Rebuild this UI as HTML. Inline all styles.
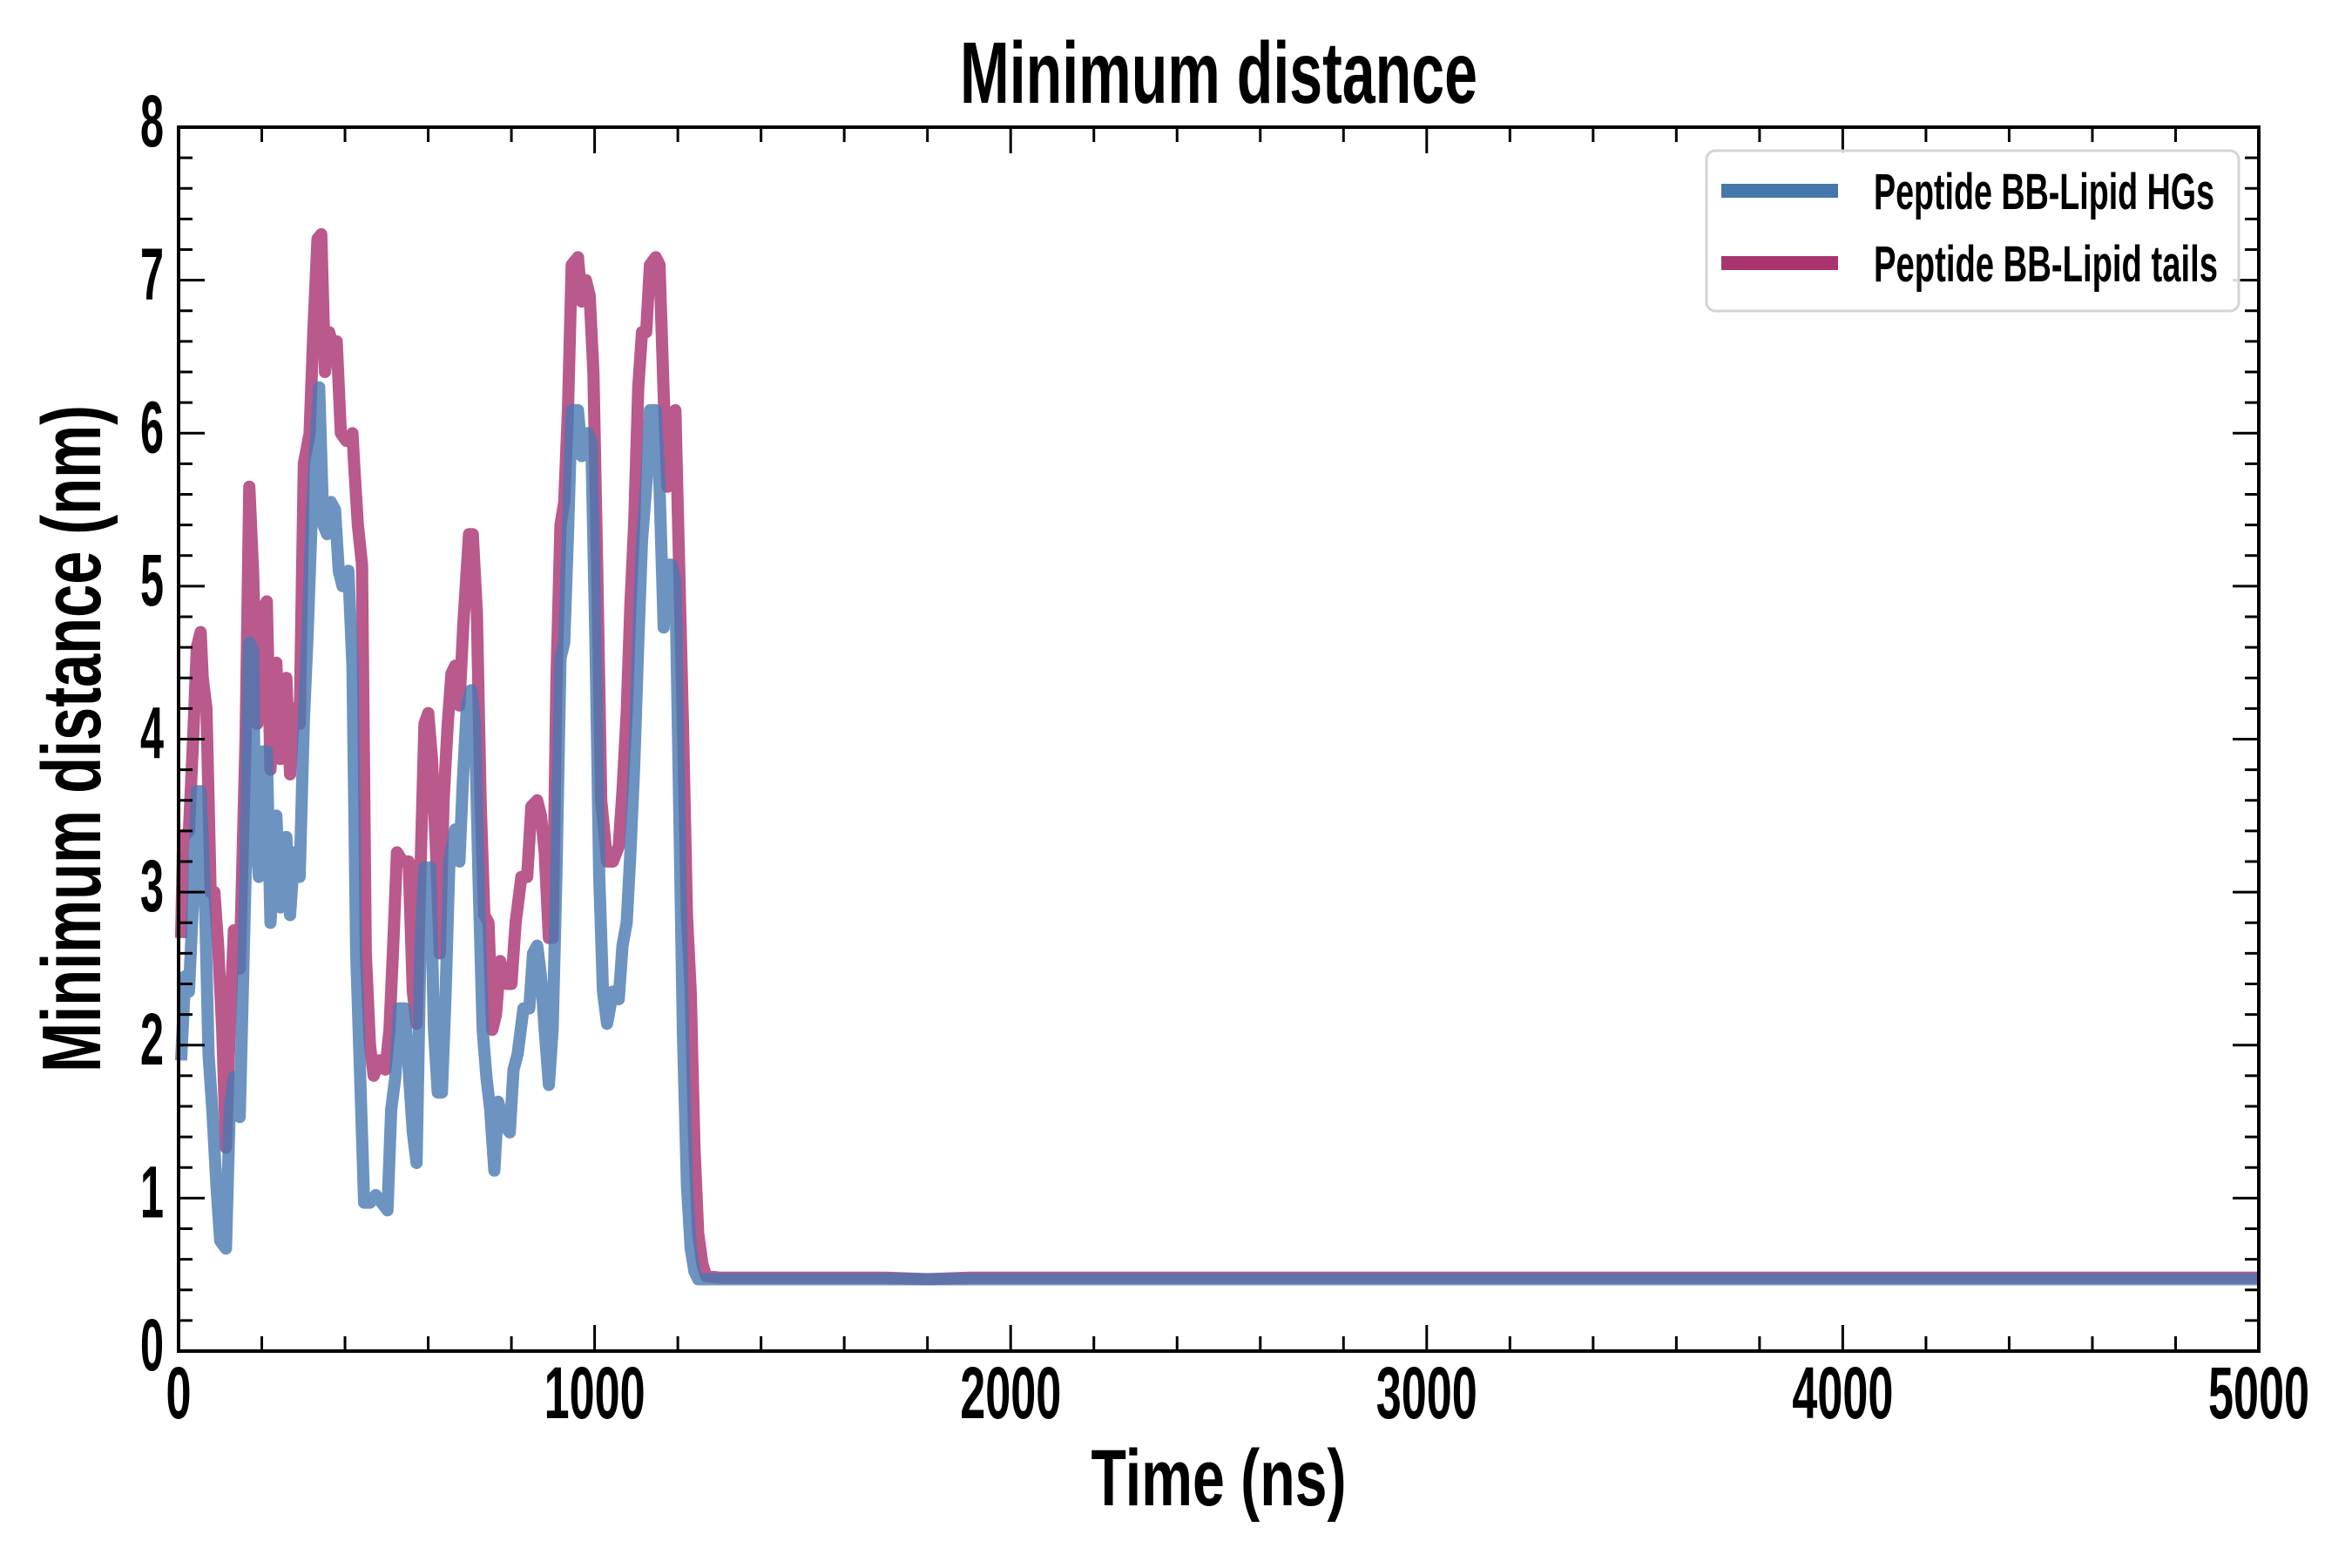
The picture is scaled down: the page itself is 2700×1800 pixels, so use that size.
<!DOCTYPE html>
<html><head><meta charset="utf-8"><title>Minimum distance</title>
<style>
html,body{margin:0;padding:0;background:#fff;}
svg{display:block;}
text{font-family:"Liberation Sans Narrow","Liberation Sans",sans-serif;font-weight:bold;fill:#000;}
</style></head>
<body>
<svg id="chart" xmlns="http://www.w3.org/2000/svg" width="2700" height="1800" viewBox="0 0 2700 1800">
<rect width="2700" height="1800" fill="#fff"/>
<text x="1399" y="118" font-size="100" text-anchor="middle" textLength="594" lengthAdjust="spacingAndGlyphs">Minimum distance</text>
<text transform="translate(115,848) rotate(-90)" font-size="96" text-anchor="middle" textLength="766" lengthAdjust="spacingAndGlyphs">Minimum distance (nm)</text>
<text x="1399" y="1728" font-size="92" text-anchor="middle" textLength="293" lengthAdjust="spacingAndGlyphs">Time (ns)</text>
<g id="series"></g>
<g id="axes"></g>
<g>
  <rect x="1959" y="173" width="611" height="184" rx="10" fill="#fff" fill-opacity="0.85" stroke="#d4d4d4" stroke-width="3"/>
  <line x1="1976" y1="219" x2="2110" y2="219" stroke="#4677aa" stroke-width="16"/>
  <text x="2151" y="240" font-size="58" textLength="391" lengthAdjust="spacingAndGlyphs">Peptide BB-Lipid HGs</text>
  <line x1="1976" y1="302" x2="2110" y2="302" stroke="#a83470" stroke-width="16"/>
  <text x="2151" y="323" font-size="58" textLength="395" lengthAdjust="spacingAndGlyphs">Peptide BB-Lipid tails</text>
</g>
</svg>
<script>
const xTickLabels = ["0","1000","2000","3000","4000","5000"];
const yTickLabels = ["0","1","2","3","4","5","6","7","8"];
const timeTails = [6,11,25,35,44,53,58,67,77,86,95,105,114,123,133,147,161,170,179,189,198,212,221,235,245,259,268,278,291,301,315,324,334,343,352,362,371,380,390,403,418,422,431,441,450,460,469,483,497,507,516,525,539,553,563,572,581,591,600,609,619,628,637,647,656,665,675,684,698,707,717,726,735,745,754,763,773,787,800,810,824,838,848,862,871,880,890,899,908,918,927,936,945,960,969,979,988,997,1006,1016,1030,1044,1058,1067,1077,1086,1095,1105,1114,1124,1133,1147,1156,1166,1175,1184,1194,1203,1212,1222,1231,1240,1249,1259,1268,1300,1400,1500,1600,1700,1800,1900,2000,2100,2200,2300,2400,2500,2600,2700,2800,2900,3000,3100,3200,3300,3400,3500,3600,3700,3800,3900,4000,4100,4200,4300,4400,4500,4600,4700,4800,4900,5000];
const valueTails = [2.7,3.36,3.4,4.0,4.6,4.7,4.4,4.2,3.0,3.0,2.65,2.1,1.33,2.1,2.75,2.5,4.0,5.65,5.1,4.1,4.83,4.9,3.8,4.5,3.87,4.4,3.77,4.2,4.1,5.8,6.0,6.66,7.27,7.3,6.4,6.66,6.56,6.6,6.0,5.95,6.0,5.8,5.4,5.14,2.6,2.0,1.8,1.9,1.84,2.1,2.65,3.26,3.2,3.2,2.35,2.14,3.1,4.1,4.17,3.87,3.26,2.6,3.6,4.1,4.43,4.48,4.22,4.73,5.34,5.34,4.83,3.6,2.85,2.8,2.1,2.2,2.55,2.4,2.4,2.8,3.1,3.1,3.56,3.6,3.5,3.26,2.7,2.7,4.37,5.4,5.55,6.15,7.1,7.15,6.86,7.0,6.9,6.4,5.14,3.6,3.2,3.2,3.3,3.66,4.17,4.88,5.4,6.3,6.66,6.66,7.1,7.15,7.1,6.25,5.65,6.05,6.15,5.14,4.12,2.85,2.35,1.33,0.77,0.57,0.49,0.48,0.48,0.48,0.48,0.48,0.47,0.48,0.48,0.48,0.48,0.48,0.48,0.48,0.48,0.48,0.48,0.48,0.48,0.48,0.48,0.48,0.48,0.48,0.48,0.48,0.48,0.48,0.48,0.48,0.48,0.48,0.48,0.48,0.48,0.48,0.48,0.48,0.48,0.48];
const timeHGs = [6,16,25,35,44,53,63,72,81,91,100,114,123,133,147,161,170,179,184,193,203,212,221,235,245,259,268,278,291,301,310,320,329,338,348,357,366,376,385,394,408,418,427,436,446,460,474,488,502,511,521,530,544,553,563,572,581,591,605,614,623,633,642,651,665,675,684,693,703,712,721,731,740,749,759,768,782,796,805,815,829,843,852,862,871,880,890,899,908,918,927,936,945,960,969,983,992,1002,1011,1020,1030,1044,1058,1067,1077,1086,1095,1105,1114,1124,1133,1147,1156,1166,1175,1184,1194,1203,1212,1222,1231,1240,1249,1300,1400,1500,1600,1700,1800,1900,2000,2100,2200,2300,2400,2500,2600,2700,2800,2900,3000,3100,3200,3300,3400,3500,3600,3700,3800,3900,4000,4100,4200,4300,4400,4500,4600,4700,4800,4900,5000];
const valueHGs = [1.9,2.45,2.35,2.95,3.66,3.66,3.0,1.94,1.58,1.08,0.72,0.67,1.58,1.79,1.53,3.1,4.63,4.58,3.41,3.1,3.92,3.92,2.8,3.5,2.9,3.36,2.85,3.26,3.1,4.12,4.68,5.44,5.9,6.3,5.4,5.34,5.55,5.5,5.1,5.0,5.1,4.48,2.6,1.84,0.97,0.97,1.02,0.97,0.92,1.58,1.79,2.24,2.24,1.84,1.43,1.23,2.6,3.16,3.16,2.1,1.69,1.69,2.35,3.2,3.41,3.2,3.77,4.22,4.32,4.12,3.1,2.1,1.79,1.58,1.18,1.63,1.48,1.43,1.84,1.94,2.24,2.24,2.6,2.65,2.45,2.1,1.74,2.1,3.1,4.53,4.63,5.34,6.15,6.15,5.85,6.0,5.95,4.63,3.1,2.35,2.14,2.35,2.3,2.65,2.8,3.26,3.82,4.63,5.3,5.65,6.15,6.15,5.65,4.73,5.14,5.14,5.04,3.6,2.1,1.08,0.67,0.52,0.47,0.47,0.47,0.47,0.47,0.47,0.47,0.47,0.47,0.47,0.47,0.47,0.47,0.47,0.47,0.47,0.47,0.47,0.47,0.47,0.47,0.47,0.47,0.47,0.47,0.47,0.47,0.47,0.47,0.47,0.47,0.47,0.47,0.47,0.47,0.47,0.47,0.47,0.47,0.47,0.47];

const NS = "http://www.w3.org/2000/svg";
const L = 205, R = 2593, T = 146, B = 1551;
const xMin = 0, xMax = 5000, yMin = 0, yMax = 8;
function xs(v){ return L + (v - xMin) / (xMax - xMin) * (R - L); }
function ys(v){ return B - (v - yMin) / (yMax - yMin) * (B - T); }

const series = document.getElementById('series');
function drawLine(times, vals, color, name){
  let d = "";
  for (let i = 0; i < times.length; i++) {
    d += (i ? "L" : "M") + xs(times[i]).toFixed(1) + "," + ys(vals[i]).toFixed(1);
  }
  const p = document.createElementNS(NS, 'path');
  p.setAttribute('d', d);
  p.setAttribute('fill', 'none');
  p.setAttribute('stroke', color);
  p.setAttribute('stroke-width', '14');
  p.setAttribute('stroke-opacity', '0.8');
  p.setAttribute('stroke-linejoin', 'round');
  
  
  series.appendChild(p);
}
drawLine(timeTails, valueTails, '#a8306f', 'line-lipid-tails');
drawLine(timeHGs, valueHGs, '#4878b0', 'line-lipid-hgs');

const axes = document.getElementById('axes');
function ln(x1,y1,x2,y2,w){
  const l = document.createElementNS(NS,'line');
  l.setAttribute('x1',x1); l.setAttribute('y1',y1); l.setAttribute('x2',x2); l.setAttribute('y2',y2);
  l.setAttribute('stroke','#000'); l.setAttribute('stroke-width',w);
  
  
  axes.appendChild(l);
}
for (let v = 0; v <= 5000; v += 200) {
  const major = v % 1000 === 0;
  const len = major ? 30 : 17;
  const x = xs(v);
  ln(x, B, x, B - len, 3);
  ln(x, T, x, T + len, 3);
}
for (let k = 0; k <= 40; k++) {
  const v = k * 0.2;
  const major = k % 5 === 0;
  const len = major ? 30 : 16;
  const y = ys(v);
  ln(L, y, L + len, y, 3);
  ln(R, y, R - len, y, 3);
}
const frame = document.createElementNS(NS,'rect');
frame.setAttribute('x', L); frame.setAttribute('y', T);
frame.setAttribute('width', R - L); frame.setAttribute('height', B - T);
frame.setAttribute('fill','none'); frame.setAttribute('stroke','#000'); frame.setAttribute('stroke-width','4');


axes.appendChild(frame);

xTickLabels.forEach(function(lab){
  const t = document.createElementNS(NS,'text');
  t.setAttribute('x', xs(parseFloat(lab)));
  t.setAttribute('y', 1628);
  t.setAttribute('font-size', '84');
  t.setAttribute('text-anchor', 'middle');
  t.setAttribute('textLength', 29 * lab.length);
  t.setAttribute('lengthAdjust', 'spacingAndGlyphs');
  t.textContent = lab;
  
  
  axes.appendChild(t);
});
yTickLabels.forEach(function(lab){
  const t = document.createElementNS(NS,'text');
  t.setAttribute('x', 188);
  t.setAttribute('y', ys(parseFloat(lab)) + 22);
  t.setAttribute('font-size', '84');
  t.setAttribute('text-anchor', 'end');
  t.setAttribute('textLength', 27 * lab.length);
  t.setAttribute('lengthAdjust', 'spacingAndGlyphs');
  t.textContent = lab;
  
  
  axes.appendChild(t);
});
</script>
</body></html>
